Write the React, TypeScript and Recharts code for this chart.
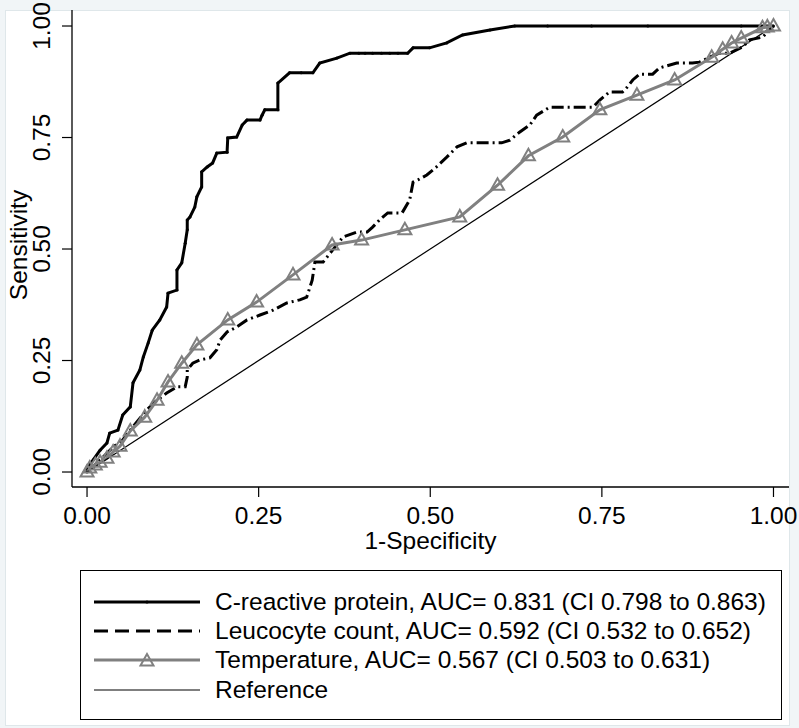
import React from 'react';
import { LineChart, Line, XAxis, YAxis } from 'recharts';

// ROC points: false positive rate (1-specificity) / sensitivity
const crpFpr = [0, 0, 0.009, 0.019, 0.029, 0.033, 0.045, 0.052, 0.063, 0.067, 0.077, 0.082, 0.089, 0.095, 0.106, 0.116, 0.118, 0.131, 0.131, 0.138, 0.143, 0.146, 0.146, 0.15, 0.157, 0.16, 0.167, 0.167, 0.175, 0.183, 0.189, 0.204, 0.205, 0.218, 0.226, 0.233, 0.252, 0.255, 0.259, 0.278, 0.278, 0.295, 0.312, 0.329, 0.339, 0.364, 0.383, 0.396, 0.405, 0.416, 0.429, 0.441, 0.453, 0.467, 0.475, 0.499, 0.524, 0.547, 0.587, 0.623, 0.671, 0.735, 0.817, 0.953, 1];
const crpTpr = [0, 0.009, 0.027, 0.049, 0.065, 0.087, 0.094, 0.128, 0.146, 0.2, 0.229, 0.258, 0.289, 0.318, 0.341, 0.37, 0.401, 0.408, 0.453, 0.469, 0.513, 0.543, 0.565, 0.572, 0.594, 0.617, 0.639, 0.673, 0.684, 0.693, 0.715, 0.717, 0.749, 0.751, 0.778, 0.789, 0.789, 0.8, 0.812, 0.812, 0.872, 0.895, 0.895, 0.895, 0.917, 0.928, 0.939, 0.939, 0.939, 0.939, 0.939, 0.939, 0.939, 0.939, 0.951, 0.951, 0.962, 0.98, 0.991, 1, 1, 1, 1, 1, 1];

const leuFpr = [0, 0.019, 0.038, 0.052, 0.063, 0.087, 0.102, 0.116, 0.131, 0.143, 0.146, 0.146, 0.154, 0.164, 0.179, 0.189, 0.194, 0.204, 0.218, 0.233, 0.252, 0.271, 0.291, 0.31, 0.32, 0.328, 0.332, 0.344, 0.358, 0.373, 0.393, 0.408, 0.416, 0.426, 0.438, 0.459, 0.47, 0.475, 0.482, 0.495, 0.509, 0.524, 0.539, 0.553, 0.604, 0.616, 0.63, 0.645, 0.655, 0.674, 0.737, 0.747, 0.761, 0.78, 0.787, 0.795, 0.805, 0.824, 0.834, 0.859, 0.882, 0.892, 0.907, 0.921, 0.936, 0.955, 0.965, 0.984, 0.994, 1];
const leuTpr = [0, 0.027, 0.056, 0.072, 0.094, 0.139, 0.161, 0.177, 0.191, 0.191, 0.213, 0.229, 0.244, 0.251, 0.256, 0.274, 0.296, 0.314, 0.325, 0.341, 0.352, 0.363, 0.379, 0.386, 0.392, 0.43, 0.471, 0.471, 0.498, 0.527, 0.538, 0.538, 0.549, 0.565, 0.581, 0.581, 0.61, 0.65, 0.655, 0.666, 0.684, 0.706, 0.729, 0.738, 0.738, 0.744, 0.762, 0.778, 0.8, 0.818, 0.818, 0.834, 0.852, 0.852, 0.863, 0.879, 0.892, 0.892, 0.906, 0.917, 0.917, 0.919, 0.93, 0.939, 0.939, 0.953, 0.969, 0.975, 0.991, 1];

const tempFpr = [0, 0.004, 0.012, 0.019, 0.029, 0.038, 0.048, 0.063, 0.084, 0.102, 0.118, 0.138, 0.16, 0.205, 0.247, 0.3, 0.357, 0.4, 0.463, 0.543, 0.598, 0.643, 0.693, 0.747, 0.801, 0.856, 0.91, 0.926, 0.939, 0.953, 0.984, 0.991, 1];
const tempTpr = [0, 0.009, 0.016, 0.022, 0.031, 0.045, 0.058, 0.092, 0.123, 0.161, 0.202, 0.244, 0.285, 0.341, 0.381, 0.442, 0.509, 0.52, 0.543, 0.572, 0.643, 0.709, 0.751, 0.812, 0.845, 0.879, 0.93, 0.948, 0.962, 0.973, 0.996, 0.998, 1];

const refFpr = [0, 1];
const refTpr = [0, 1];

const axisTicks = [0, 0.25, 0.5, 0.75, 1];

const legendLabels = [
  'C-reactive protein, AUC= 0.831 (CI 0.798 to 0.863)',
  'Leucocyte count, AUC= 0.592 (CI 0.532 to 0.652)',
  'Temperature, AUC= 0.567 (CI 0.503 to 0.631)',
  'Reference',
];

const zip = (xs: number[], ys: number[]) => xs.map((x, i) => ({ x, y: ys[i] }));

const crpData = zip(crpFpr, crpTpr);
const leuData = zip(leuFpr, leuTpr);
const tempData = zip(tempFpr, tempTpr);
const refData = zip(refFpr, refTpr);

const FONT = 'Arial, "Liberation Sans", sans-serif';
const FS = 24.5;
const GREY = '#808080';

const XTick = (props: any) => {
  const { x, y, payload } = props;
  return (
    <text x={x} y={y + 25} textAnchor="middle" fontSize={FS} fontFamily={FONT} fill="#000">
      {payload.value.toFixed(2)}
    </text>
  );
};

const YTick = (props: any) => {
  const { x, y, payload } = props;
  const bx = x - 10;
  return (
    <text x={bx} y={y} transform={`rotate(-90, ${bx}, ${y})`} textAnchor="middle" fontSize={FS} fontFamily={FONT} fill="#000">
      {payload.value.toFixed(2)}
    </text>
  );
};

const Triangle = ({ cx, cy }: { cx: number; cy: number }) => (
  <polygon
    points={`${cx},${cy - 7} ${cx - 6.5},${cy + 4.5} ${cx + 6.5},${cy + 4.5}`}
    fill="none"
    stroke={GREY}
    strokeWidth={2}
  />
);

const TriangleDot = (props: any) => {
  const { cx, cy, index } = props;
  if (cx == null || cy == null) return <g key={`t-${index}`} />;
  return (
    <g key={`t-${index}`}>
      <Triangle cx={cx} cy={cy} />
    </g>
  );
};

const LegendSample = ({ i }: { i: number }) => {
  const y = 9;
  return (
    <svg width={108} height={18} style={{ display: 'block' }}>
      {i === 0 && (
        <>
          <line x1={1} y1={y} x2={107} y2={y} stroke="#000" strokeWidth={3} />
          <circle cx={54} cy={y} r={1.6} fill="#000" />
        </>
      )}
      {i === 1 && <line x1={1} y1={y} x2={107} y2={y} stroke="#000" strokeWidth={3} strokeDasharray="14 7" />}
      {i === 2 && (
        <>
          <line x1={1} y1={y} x2={107} y2={y} stroke={GREY} strokeWidth={3} />
          <Triangle cx={54} cy={y + 1} />
        </>
      )}
      {i === 3 && <line x1={1} y1={y} x2={107} y2={y} stroke="#000" strokeWidth={1.2} />}
    </svg>
  );
};

const rowCenters = [601, 630, 659, 689];

export default function App() {
  return (
    <div style={{ position: 'absolute', left: 0, top: 0, width: 799, height: 728, background: '#f1f5f7', fontFamily: FONT }}>
      <div style={{ position: 'absolute', left: 5, top: 10, width: 783, height: 714, background: '#fff', border: '1px solid #dfe7ea' }} />
      <div style={{ position: 'absolute', left: 0, top: 0 }}>
        <LineChart width={799} height={560} margin={{ top: 10, right: 10, bottom: 0, left: 0 }}>
          <XAxis
            type="number"
            dataKey="x"
            domain={[-0.0219, 1.0226]}
            allowDataOverflow
            ticks={axisTicks}
            height={73}
            tickSize={10}
            tick={<XTick />}
            axisLine={{ stroke: '#000', strokeWidth: 1.3 }}
            tickLine={{ stroke: '#000', strokeWidth: 1.2 }}
            label={{
              content: () => (
                <text x={430.5} y={549} textAnchor="middle" fontSize={FS} fontFamily={FONT} fill="#000">
                  1-Specificity
                </text>
              ),
            }}
          />
          <YAxis
            type="number"
            dataKey="y"
            domain={[-0.0336, 1.0359]}
            allowDataOverflow
            ticks={axisTicks}
            width={72}
            tickSize={10}
            tick={<YTick />}
            axisLine={{ stroke: '#000', strokeWidth: 1.3 }}
            tickLine={{ stroke: '#000', strokeWidth: 1.2 }}
            label={{
              content: () => (
                <text x={27} y={245} transform="rotate(-90, 27, 245)" textAnchor="middle" fontSize={FS} fontFamily={FONT} fill="#000">
                  Sensitivity
                </text>
              ),
            }}
          />
          <Line
            data={crpData}
            dataKey="y"
            type="linear"
            stroke="#000"
            strokeWidth={3}
            dot={{ r: 1.5, fill: '#000', stroke: 'none' }}
            activeDot={false}
            isAnimationActive={false}
          />
          <Line
            data={leuData}
            dataKey="y"
            type="linear"
            stroke="#000"
            strokeWidth={3}
            strokeDasharray="12 4 2 4"
            dot={false}
            activeDot={false}
            isAnimationActive={false}
          />
          <Line
            data={tempData}
            dataKey="y"
            type="linear"
            stroke={GREY}
            strokeWidth={3}
            dot={TriangleDot}
            activeDot={false}
            isAnimationActive={false}
          />
          <Line
            data={refData}
            dataKey="y"
            type="linear"
            stroke="#000"
            strokeWidth={1.2}
            dot={false}
            activeDot={false}
            isAnimationActive={false}
          />
        </LineChart>
      </div>
      <div style={{ position: 'absolute', left: 80, top: 570, width: 700, height: 148, border: '1.5px solid #000', background: '#fff' }}>
        {legendLabels.map((label, i) => (
          <div key={label} style={{ position: 'absolute', left: 0, top: rowCenters[i] - 570 - 15, height: 30, display: 'flex', alignItems: 'center' }}>
            <div style={{ marginLeft: 12, width: 108 }}>
              <LegendSample i={i} />
            </div>
            <span style={{ marginLeft: 14, fontSize: FS, color: '#000', whiteSpace: 'nowrap', lineHeight: '30px' }}>{label}</span>
          </div>
        ))}
      </div>
    </div>
  );
}
